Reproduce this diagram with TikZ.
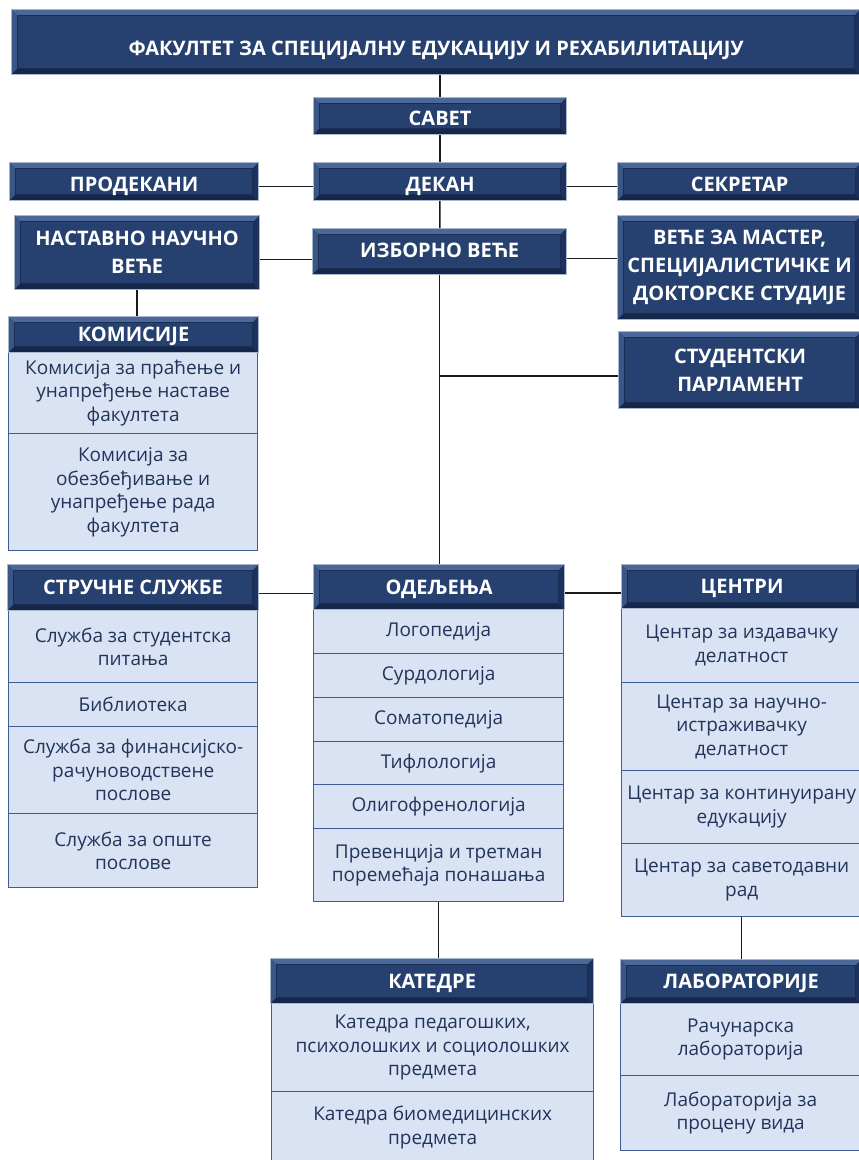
\documentclass[tikz,border=0pt]{standalone}
\usepackage{fontspec}
\setmainfont{Open Sans}
\usetikzlibrary{calc}
\definecolor{navyface}{HTML}{26416F}
\definecolor{bevtop}{HTML}{4C6898}
\definecolor{bevleft}{HTML}{3A5687}
\definecolor{bevbot}{HTML}{15274A}
\definecolor{bevright}{HTML}{1C325C}
\definecolor{bevinner}{HTML}{1A2D52}
\definecolor{bevborder}{HTML}{A9B7CC}
\definecolor{itemfill}{HTML}{DAE3F3}
\definecolor{itemline}{HTML}{3E5E96}
\definecolor{itemtext}{HTML}{23345A}
\definecolor{linkc}{HTML}{1A1A1A}
\tikzset{
  bevel/.style={fill=navyface, draw=bevborder, line width=1.2pt,
    path picture={
      \coordinate (@a) at (path picture bounding box.north west);
      \coordinate (@b) at (path picture bounding box.north east);
      \coordinate (@c) at (path picture bounding box.south east);
      \coordinate (@d) at (path picture bounding box.south west);
      \fill[bevtop] (@a) -- (@b) -- ([shift={(-6pt,-6pt)}]@b) -- ([shift={(6pt,-6pt)}]@a) -- cycle;
      \fill[bevleft] (@a) -- ([shift={(6pt,-6pt)}]@a) -- ([shift={(6pt,6pt)}]@d) -- (@d) -- cycle;
      \fill[bevbot] (@d) -- ([shift={(6pt,6pt)}]@d) -- ([shift={(-6pt,6pt)}]@c) -- (@c) -- cycle;
      \fill[bevright] (@c) -- ([shift={(-6pt,6pt)}]@c) -- ([shift={(-6pt,-6pt)}]@b) -- (@b) -- cycle;
      \draw[bevinner, line width=0.8pt] ([shift={(6pt,-6pt)}]@a) rectangle ([shift={(-6pt,6pt)}]@c);
    }},
  hdr/.style={bevel, anchor=north west, inner sep=0pt, align=center, text=white,
    font=\bfseries\fontsize{20}{28}\selectfont},
  hdr1/.style={hdr, execute at begin node={\rule{0pt}{#1}},
    execute at end node={\rule[-5pt]{0pt}{0pt}}},
  hdr1/.default=19.4pt,
  item/.style={anchor=north west, draw=itemline, fill=itemfill, line width=1.3pt,
    text=itemtext, align=center, inner sep=0pt, font=\fontsize{19}{23.5}\selectfont},
  link/.style={draw=linkc, line width=1.5pt}
}
\begin{document}
\begin{tikzpicture}[x=1pt,y=-1pt]
\useasboundingbox (0,0) rectangle (859,1160);

% top part
\node[hdr1=31pt, minimum width=849, minimum height=65] (title) at (11,9) {ФАКУЛТЕТ ЗА СПЕЦИЈАЛНУ ЕДУКАЦИЈУ И РЕХАБИЛИТАЦИЈУ};
\node[hdr1=24pt, minimum width=253, minimum height=37] (savet) at (313,97) {САВЕТ};
\node[hdr1=25pt, minimum width=253, minimum height=38] (dekan) at (313,162) {ДЕКАН};
\node[hdr1=25pt, minimum width=249, minimum height=38] (prodekani) at (9,162) {ПРОДЕКАНИ};
\node[hdr1=25pt, minimum width=244, minimum height=38] (sekretar) at (617,162) {СЕКРЕТАР};
\node[hdr, minimum width=245, minimum height=74] (nnv) at (14,215) {НАСТАВНО НАУЧНО\\ВЕЋЕ};
\node[hdr1=17pt, minimum width=254, minimum height=46] (izborno) at (312,228) {ИЗБОРНО ВЕЋЕ};
\node[hdr, minimum width=244, minimum height=104] (master) at (617,215) {ВЕЋЕ ЗА МАСТЕР,\\СПЕЦИЈАЛИСТИЧКЕ И\\ДОКТОРСКЕ СТУДИЈЕ};
\node[hdr, minimum width=243, minimum height=77] (student) at (618,331) {СТУДЕНТСКИ\\ПАРЛАМЕНТ};

% komisije
\node[item, minimum width=249, minimum height=82] (kom1) at (8,351) {Комисија за праћење и\\унапређење наставе\\факултета};
\node[item, minimum width=249, minimum height=117] (kom2) at (8,433) {Комисија за\\обезбеђивање и\\унапређење рада\\факултета};
\node[hdr1, minimum width=250, minimum height=36] (komisije) at (8,316) {КОМИСИЈЕ};

% strucne sluzbe
\node[item, minimum width=249, minimum height=72] (ss1) at (8,610) {Служба за студентска\\питања};
\node[item, minimum width=249, minimum height=44] (ss2) at (8,682) {Библиотека};
\node[item, minimum width=249, minimum height=87] (ss3) at (8,726) {Служба за финансијско-\\рачуноводствене\\послове};
\node[item, minimum width=249, minimum height=74] (ss4) at (8,813) {Служба за опште\\послове};
\node[hdr1, minimum width=251, minimum height=46] (strucne) at (7,564) {СТРУЧНЕ СЛУЖБЕ};

% odeljenja
\node[item, minimum width=250, minimum height=44] (od1) at (313,609) {Логопедија};
\node[item, minimum width=250, minimum height=44] (od2) at (313,653) {Сурдологија};
\node[item, minimum width=250, minimum height=44] (od3) at (313,697) {Соматопедија};
\node[item, minimum width=250, minimum height=43] (od4) at (313,741) {Тифлологија};
\node[item, minimum width=250, minimum height=44] (od5) at (313,784) {Олигофренологија};
\node[item, minimum width=250, minimum height=73] (od6) at (313,828) {Превенција и третман\\поремећаја понашања};
\node[hdr1, minimum width=251, minimum height=45] (odeljenja) at (313,564) {ОДЕЉЕЊА};

% centri
\node[item, minimum width=240, minimum height=74] (c1) at (621,608) {Центар за издавачку\\делатност};
\node[item, minimum width=240, minimum height=88] (c2) at (621,682) {Центар за научно-\\истраживачку\\делатност};
\node[item, minimum width=240, minimum height=73] (c3) at (621,770) {Центар за континуирану\\едукацију};
\node[item, minimum width=240, minimum height=73] (c4) at (621,843) {Центар за саветодавни\\рад};
\node[hdr1, minimum width=241, minimum height=44] (centri) at (621,564) {ЦЕНТРИ};

% katedre
\node[item, minimum width=322, minimum height=88] (k1) at (271,1003) {Катедра педагошких,\\психолошких и социолошких\\предмета};
\node[item, minimum width=322, minimum height=72] (k2) at (271,1091) {Катедра биомедицинских\\предмета};
\node[hdr1, minimum width=323, minimum height=45] (katedre) at (270,958) {КАТЕДРЕ};

% laboratorije
\node[item, minimum width=240, minimum height=72] (l1) at (620,1003) {Рачунарска\\лабораторија};
\node[item, minimum width=240, minimum height=75] (l2) at (620,1075) {Лабораторија за\\процену вида};
\node[hdr1, minimum width=241, minimum height=44] (lab) at (620,959) {ЛАБОРАТОРИЈЕ};

% connectors
\path[link] (title.south -| savet.north) -- (savet.north);
\path[link] (savet) -- (dekan);
\path[link] (dekan) -- (izborno);
\path[link] (izborno.south) -- (izborno.south |- odeljenja.north);
\path[link] ([yshift=-5pt]prodekani.east) -- ([yshift=-5pt]prodekani.east -| dekan.west);
\path[link] ([yshift=-5pt]dekan.east) -- ([yshift=-5pt]dekan.east -| sekretar.west);
\path[link] ([yshift=-7pt]nnv.east) -- ([yshift=-7pt]nnv.east -| izborno.west);
\path[link] ([yshift=-7pt]izborno.east) -- ([yshift=-7pt]izborno.east -| master.west);
\coordinate (sj) at ($(izborno.south |- student.west)+(0,6)$);
\path[link] (sj) -- (sj -| student.west);
\path[link] (nnv.south) -- (nnv.south |- komisije.north);
\path[link] ([yshift=-6pt]strucne.east) -- ([yshift=-6pt]strucne.east -| odeljenja.west);
\path[link] ([yshift=-6pt]odeljenja.east) -- ([yshift=-6pt]odeljenja.east -| centri.west);
\path[link] (od6.south) -- (od6.south |- katedre.north);
\path[link] (c4.south) -- (c4.south |- lab.north);
\end{tikzpicture}
\end{document}
